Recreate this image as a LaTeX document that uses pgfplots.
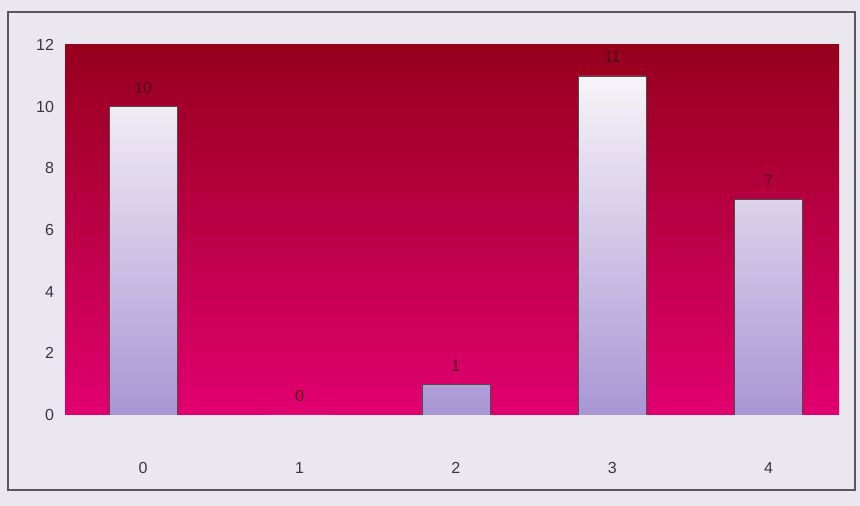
\documentclass[border=0pt]{standalone}
\usepackage{pgfplots}
\pgfplotsset{compat=1.18}
\usepackage{fontspec}
\setmainfont{Liberation Sans}
\definecolor{bgtop}{RGB}{150,0,28}
\definecolor{bgmid}{RGB}{180,0,80}
\definecolor{bgbot}{RGB}{225,0,112}
\definecolor{bartop}{RGB}{248,244,248}
\definecolor{barbot}{RGB}{168,150,212}
\definecolor{paper}{RGB}{234,231,238}
\definecolor{ticktext}{RGB}{55,55,65}
\definecolor{valtext}{RGB}{80,0,30}
\begin{document}
\begin{tikzpicture}
\fill[paper] (-32.5pt,-45.5pt) rectangle (397.5pt,207.5pt);
\draw[gray!70!black, line width=0.8pt] (-28.5pt,-37.5pt) rectangle (395pt,201.5pt);
\begin{axis}[
  at={(0,0)}, anchor=south west,
  scale only axis, width=387pt, height=185pt,
  xmin=-0.5, xmax=4.45, ymin=0, ymax=12,
  xtick={0,1,2,3,4}, ytick={0,2,4,6,8,10,12},
  axis background/.style={shade, top color=bgtop, middle color=bgmid, bottom color=bgbot},
  axis line style={draw=none},
  major tick length=0pt,
  tick label style={font=\footnotesize, text=ticktext},
  xticklabel style={yshift=-20pt},
  yticklabel style={xshift=-2pt},
  /pgf/number format/assume math mode=true,
  ybar, bar width=34pt,
  nodes near coords,
  every node near coord/.append style={font=\footnotesize, text=valtext, yshift=3pt},
]
\addplot[draw=gray!60!black, line width=0.3pt, top color=bartop, bottom color=barbot]
  coordinates {(0,10) (1,0) (2,1) (3,11) (4,7)};
\end{axis}
\end{tikzpicture}
\end{document}
